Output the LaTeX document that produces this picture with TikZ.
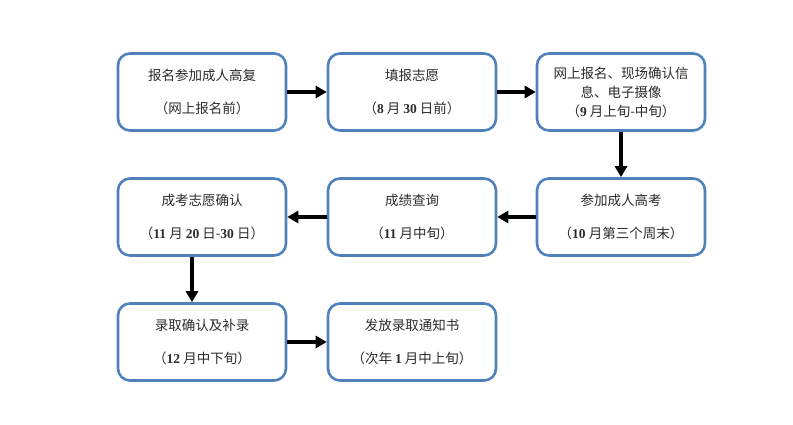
\documentclass[tikz,border=0pt]{standalone}
\usepackage{fontspec}
\setmainfont{Noto Sans CJK SC}
\newfontfamily\numfont{Liberation Serif}
\usetikzlibrary{arrows.meta, positioning}
\definecolor{cblue}{HTML}{4F81BD}
\definecolor{ctext}{HTML}{2B2B2B}
\newcommand{\nb}[1]{{\numfont\bfseries #1}}
\tikzset{
  every picture/.style={x=1pt, y=-1pt},
  box/.style={draw=cblue, line width=2.6pt, rounded corners=12pt, fill=white,
    minimum width=168pt, minimum height=77pt, align=center, inner sep=2pt,
    text=ctext, font=\fontsize{13.5}{19}\selectfont},
  arrow/.style={-{Triangle[length=11pt, width=12pt]}, draw=black, line width=3.6pt},
}
\begin{document}
\begin{tikzpicture}
  \useasboundingbox (0,0) rectangle (793,425);
  \node[box] (bm) at (202,92) {报名参加成人高复\\[14pt]（网上报名前）};
  \node[box] (zy) at (412,92) {填报志愿\\[14pt]（\nb{8} 月 \nb{30} 日前）};
  \node[box] (qr) at (621,92) {网上报名、现场确认信\\息、电子摄像\\（\nb{9} 月上旬-中旬）};
  \node[box] (ks) at (621,217) {参加成人高考\\[14pt]（\nb{10} 月第三个周末）};
  \node[box] (cj) at (412,217) {成绩查询\\[14pt]（\nb{11} 月中旬）};
  \node[box] (zq) at (202,217) {成考志愿确认\\[14pt]（\nb{11} 月 \nb{20} 日-\nb{30} 日）};
  \node[box] (lq) at (202,342) {录取确认及补录\\[14pt]（\nb{12} 月中下旬）};
  \node[box] (tz) at (412,342) {发放录取通知书\\[14pt]（次年 \nb{1} 月中上旬）};
  \draw[arrow] (bm) -- (zy);
  \draw[arrow] (zy) -- (qr);
  \draw[arrow] (qr) -- (ks);
  \draw[arrow] (ks) -- (cj);
  \draw[arrow] (cj) -- (zq);
  \draw[arrow] ([xshift=-10pt]zq.south) -- ([xshift=-10pt]lq.north);
  \draw[arrow] (lq) -- (tz);
\end{tikzpicture}
\end{document}
